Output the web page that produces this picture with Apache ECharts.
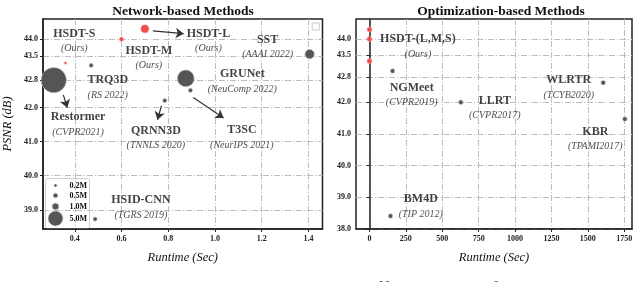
<!DOCTYPE html>
<html><head><meta charset="utf-8">
<script src="https://cdn.jsdelivr.net/npm/echarts@6/dist/echarts.min.js"></script>
<style>html,body{margin:0;padding:0;background:#fff;overflow:hidden}#c{width:640px;height:282px}</style>
</head><body><div id="c"></div>
<script>
// ---- Network-based methods (left panel) ----
const oursNames   = ['HSDT-L', 'HSDT-M', 'HSDT-S'];
const oursRuntime = [0.70, 0.60, 0.36];
const oursPSNR    = [44.30, 44.00, 43.30];
const oursParams  = [1.5, 0.45, 0.15];

const netNames   = ['TRQ3D', 'Restormer', 'QRNN3D', 'GRUNet', 'T3SC', 'SST', 'HSID-CNN'];
const netRuntime = [0.47, 0.31, 0.785, 0.875, 0.895, 1.405, 0.487];
const netPSNR    = [43.23, 42.80, 42.20, 42.85, 42.50, 43.56, 38.73];
const netParams  = [0.4, 14.5, 0.4, 6.5, 0.4, 2.0, 0.4];

// ---- Optimization-based methods (right panel) ----
const optNames   = ['NGMeet', 'LLRT', 'WLRTR', 'KBR', 'BM4D'];
const optRuntime = [159, 628, 1605, 1754, 145];
const optPSNR    = [42.99, 42.00, 42.62, 41.47, 38.41];

// ---- tick labels ----
const netXTicks = [0.4, 0.6, 0.8, 1.0, 1.2, 1.4];
const netYTicks = [39.0, 40.0, 41.0, 42.0, 42.8, 43.5, 44.0];
const optXTicks = [0, 250, 500, 750, 1000, 1250, 1500, 1750];
const optYTicks = [38.0, 39.0, 40.0, 41.0, 42.0, 42.8, 43.5, 44.0];
const legendParams = [0.2, 0.5, 1.0, 5.0];
const legendLabels = ['0.2M', '0.5M', '1.0M', '5.0M'];

// ---- annotations (text and arrows, in data coordinates) ----
const netNotes = [
  ['HSDT-S', '(Ours)', 0.398, 43.94],
  ['HSDT-M', '(Ours)', 0.717, 43.45],
  ['HSDT-L', '(Ours)', 0.972, 43.94],
  ['SST', '(AAAI 2022)', 1.225, 43.77],
  ['TRQ3D', '(RS 2022)', 0.541, 42.58],
  ['GRUNet', '(NeuComp 2022)', 1.117, 42.76],
  ['Restormer', '(CVPR2021)', 0.414, 41.50],
  ['QRNN3D', '(TNNLS 2020)', 0.747, 41.10],
  ['T3SC', '(NeurIPS 2021)', 1.115, 41.12],
  ['HSID-CNN', '(TGRS 2019)', 0.683, 39.07]
];
const optNotes = [
  ['HSDT-(L,M,S)', '(Ours)', 333, 43.76],
  ['NGMeet', '(CVPR2019)', 290, 42.22],
  ['LLRT', '(CVPR2017)', 861, 41.81],
  ['WLRTR', '(TCYB2020)', 1369, 42.47],
  ['KBR', '(TPAMI2017)', 1551, 40.84],
  ['BM4D', '(TIP 2012)', 353, 38.70]
];
const netArrows = [
  [[0.734, 44.24], [0.866, 44.16]],
  [[0.351, 42.37], [0.368, 41.99]],
  [[0.771, 42.05], [0.754, 41.64]],
  [[0.907, 42.29], [1.037, 41.69]]
];

const SERIF = '"Liberation Serif", "DejaVu Serif", serif';
const sizeOf = p => Math.max(2.5, 6.6 * Math.sqrt(p));

const grayStyle = {color: '#555', borderColor: '#c8c8c8', borderWidth: 1, borderType: [2, 1], opacity: 1};
const redStyle  = {color: '#f24a4a', borderColor: '#ffb3b3', borderWidth: 1, borderType: [2, 1], opacity: 1};

function xAxis(gi, min, max, ticks, fmt) {
  return {
    type: 'value', gridIndex: gi, min, max,
    name: 'Runtime (Sec)', nameLocation: 'middle', nameGap: 22,
    nameTextStyle: {fontFamily: SERIF, fontStyle: 'italic', fontSize: 12.5, color: '#111'},
    axisLine: {show: true, lineStyle: {color: '#222', width: 1.5}},
    axisTick: {show: true, length: 3, customValues: ticks, lineStyle: {color: '#222'}},
    axisLabel: {customValues: ticks, formatter: fmt, fontFamily: SERIF, fontWeight: 'bold', fontSize: 8, color: '#222', margin: 6},
    splitLine: {show: true, lineStyle: {color: '#bdbdbd', width: 1, type: [6, 2, 1, 2]}}
  };
}
function yAxis(gi, min, max, ticks, name) {
  return {
    type: 'value', gridIndex: gi, min, max,
    name: name, nameLocation: 'middle', nameGap: 29,
    nameTextStyle: {fontFamily: SERIF, fontStyle: 'italic', fontSize: 12.5, color: '#111'},
    axisLine: {show: true, lineStyle: {color: '#222', width: 1.5}},
    axisTick: {show: true, length: 3, customValues: ticks, lineStyle: {color: '#222'}},
    axisLabel: {customValues: ticks, formatter: v => Number(v).toFixed(1), fontFamily: SERIF, fontWeight: 'bold', fontSize: 8, color: '#222', margin: 5},
    splitLine: {show: true, lineStyle: {color: '#bdbdbd', width: 1, type: [6, 2, 1, 2]}}
  };
}
function notesSeries(notes, gi) {
  return {
    type: 'scatter', xAxisIndex: gi, yAxisIndex: gi, symbolSize: 0, silent: true, z: 5,
    data: notes.map(n => ({value: [n[2], n[3]], t: n[0], s: n[1]})),
    label: {
      show: true, position: 'inside', align: 'center', verticalAlign: 'middle',
      formatter: p => '{a|' + p.data.t + '}\n{b|' + p.data.s + '}',
      rich: {
        a: {fontFamily: SERIF, fontWeight: 'bold', fontSize: 12, color: '#111', lineHeight: 15, align: 'center'},
        b: {fontFamily: SERIF, fontStyle: 'italic', fontSize: 10, color: '#222', lineHeight: 15, align: 'center'}
      }
    }
  };
}

const zip = (a, b) => a.map((v, i) => [v, b[i]]);

const legendGraphic = {
  type: 'group', left: 45, top: 178, children: [
    {type: 'rect', shape: {x: 0, y: 0, width: 44, height: 50, r: 2}, style: {fill: '#fff', stroke: '#cfcfcf', lineWidth: 1}},
  ].concat(legendParams.flatMap((p, i) => {
    const cy = [7, 17, 28, 40][i];
    return [
      {type: 'circle', shape: {cx: 10, cy: cy, r: sizeOf(p) / 2}, style: {fill: '#555', stroke: '#c8c8c8', lineWidth: 1, lineDash: [2, 1]}},
      {type: 'text', x: 24, y: cy, style: {text: legendLabels[i], font: 'bold 8px ' + SERIF, fill: '#111', verticalAlign: 'middle'}}
    ];
  }))
};

const option = {
  animation: false,
  backgroundColor: '#fff',
  title: [
    {text: 'Network-based Methods', left: 178, top: 0, textAlign: 'center',
     textStyle: {fontFamily: SERIF, fontWeight: 'bold', fontSize: 13.5, color: '#111'}},
    {text: 'Optimization-based Methods', left: 496, top: 0, textAlign: 'center',
     textStyle: {fontFamily: SERIF, fontWeight: 'bold', fontSize: 13.5, color: '#111'}}
  ],
  grid: [
    {left: 41.5, top: 19, width: 281, height: 210, show: true, borderColor: '#222', borderWidth: 1.5},
    {left: 356, top: 19, width: 276, height: 210, show: true, borderColor: '#222', borderWidth: 1.5}
  ],
  xAxis: [
    xAxis(0, 0.264, 1.46, netXTicks, v => Number(v).toFixed(1)),
    xAxis(1, -92, 1803, optXTicks, v => String(Math.round(v)))
  ],
  yAxis: [
    yAxis(0, 38.44, 44.59, netYTicks, 'PSNR (dB)'),
    yAxis(1, 38.0, 44.63, optYTicks, '')
  ],
  graphic: [
    legendGraphic,
    {type: 'text', left: 0, top: 280.5, style: {text: 'Figure 1: Our method achieves the best trade-off between performance, runtime and size', font: '20px ' + SERIF, fill: '#666'}}
  ],
  series: [
    {type: 'scatter', xAxisIndex: 0, yAxisIndex: 0, z: 3,
     data: netRuntime.map((x, i) => ({name: netNames[i], value: [x, netPSNR[i]], symbolSize: sizeOf(netParams[i])})),
     itemStyle: grayStyle},
    {type: 'scatter', xAxisIndex: 0, yAxisIndex: 0, z: 4,
     data: oursRuntime.map((x, i) => ({name: oursNames[i], value: [x, oursPSNR[i]], symbolSize: sizeOf(oursParams[i])})),
     itemStyle: redStyle},
    {type: 'scatter', xAxisIndex: 0, yAxisIndex: 0, z: 6, data: [],
     markLine: {
       silent: true, symbol: ['none', 'arrow'], symbolSize: 8, animation: false, precision: 4,
       itemStyle: {color: '#333'},
       lineStyle: {color: '#333', width: 1.2, type: 'solid'}, label: {show: false},
       emphasis: {disabled: true},
       data: netArrows.map(a => [{coord: a[0], symbol: 'none'}, {coord: a[1], symbol: 'arrow', symbolSize: 8}])
     }},
    {type: 'scatter', xAxisIndex: 0, yAxisIndex: 0, z: 3, symbol: 'rect', symbolSize: 7,
     data: [[1.431, 44.37]], itemStyle: {color: '#fff', borderColor: '#bbb', borderWidth: 1}},
    notesSeries(netNotes, 0),
    {type: 'scatter', xAxisIndex: 1, yAxisIndex: 1, z: 3, symbolSize: 4.5,
     data: zip(optRuntime, optPSNR), itemStyle: grayStyle},
    {type: 'scatter', xAxisIndex: 1, yAxisIndex: 1, z: 4, symbolSize: 5,
     data: zip(oursRuntime, oursPSNR), itemStyle: redStyle},
    notesSeries(optNotes, 1)
  ]
};
const chart = echarts.init(document.getElementById('c'), null, {renderer: 'canvas'});
chart.setOption(option);
</script>
</body></html>
